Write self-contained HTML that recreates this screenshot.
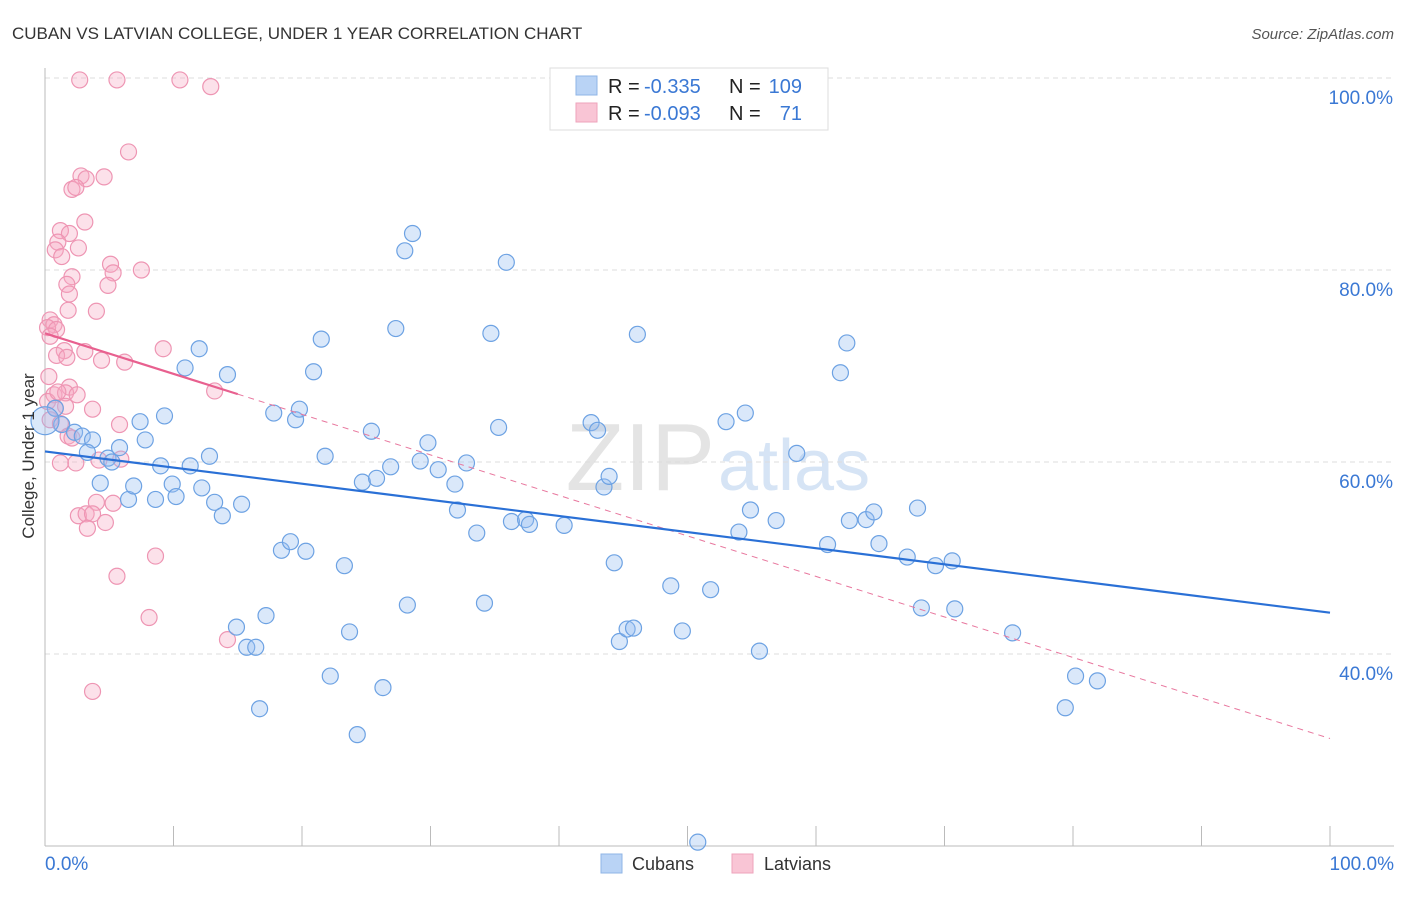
<!DOCTYPE html>
<html><head><meta charset="utf-8"><style>
body{margin:0;background:#fff;font-family:"Liberation Sans",sans-serif;}
svg text{font-family:"Liberation Sans",sans-serif;}
</style></head><body>
<svg id="chart" width="1406" height="892" xmlns="http://www.w3.org/2000/svg">
<text x="12" y="39" font-size="17" fill="#333">CUBAN VS LATVIAN COLLEGE, UNDER 1 YEAR CORRELATION CHART</text>
<text x="1394" y="39" font-size="15" fill="#555" font-style="italic" text-anchor="end">Source: ZipAtlas.com</text>
<text x="715" y="490" font-size="96" fill="#e4e4e4" text-anchor="end" font-family="Liberation Serif">ZIP</text>
<text x="718" y="490" font-size="72" fill="#d6e4f5">atlas</text>
<g id="grid"></g><g id="axes"></g><g id="marks"></g>
<text transform="translate(34,456) rotate(-90)" font-size="17" fill="#333" text-anchor="middle">College, Under 1 year</text>
<g>
<rect x="550" y="68" width="278" height="62" fill="#fff" stroke="#ddd"/>
<rect x="576" y="76" width="21" height="19" fill="#b9d3f5" stroke="#8fb5e6"/>
<rect x="576" y="103" width="21" height="19" fill="#f9c5d5" stroke="#eea3bb"/>
<text x="608" y="93" font-size="20" fill="#222">R =</text>
<text x="644" y="93" font-size="20" fill="#3a78d4">-0.335</text>
<text x="729" y="93" font-size="20" fill="#222">N =</text>
<text x="802" y="93" font-size="20" fill="#3a78d4" text-anchor="end">109</text>
<text x="608" y="120" font-size="20" fill="#222">R =</text>
<text x="644" y="120" font-size="20" fill="#3a78d4">-0.093</text>
<text x="729" y="120" font-size="20" fill="#222">N =</text>
<text x="802" y="120" font-size="20" fill="#3a78d4" text-anchor="end">71</text>
</g>
<g>
<rect x="601" y="854" width="21" height="19" fill="#b9d3f5" stroke="#8fb5e6"/>
<text x="632" y="870" font-size="18" fill="#333">Cubans</text>
<rect x="732" y="854" width="21" height="19" fill="#f9c5d5" stroke="#eea3bb"/>
<text x="764" y="870" font-size="18" fill="#333">Latvians</text>
</g>
</svg>
<script>
const blueX=[0.8,1.3,2.3,2.9,3.7,3.3,4.3,4.9,5.2,5.8,6.5,6.9,7.8,7.4,8.6,9,9.3,9.9,10.2,10.9,11.3,12,12.2,12.8,13.2,13.8,14.2,14.9,15.3,15.7,16.4,16.7,17.2,17.8,18.4,19.1,19.5,19.8,20.3,20.9,21.5,21.8,22.2,23.3,23.7,24.3,24.7,25.4,25.8,26.3,26.9,27.3,28,28.2,28.6,29.2,29.8,30.6,31.9,32.1,32.8,33.6,34.2,34.7,35.3,35.9,36.3,37.4,37.7,40.4,42.5,43,43.5,43.9,44.3,44.7,45.3,45.8,46.1,48.7,49.6,50.8,51.8,53,54,54.5,54.9,55.6,56.9,58.5,60.9,61.9,62.4,62.6,63.9,64.5,64.9,67.1,67.9,68.2,69.3,70.6,70.8,75.3,79.4,80.2,81.9,0];
const blueY=[65.6,63.9,63.1,62.7,62.3,61,57.8,60.4,60,61.5,56.1,57.5,62.3,64.2,56.1,59.6,64.8,57.7,56.4,69.8,59.6,71.8,57.3,60.6,55.8,54.4,69.1,42.8,55.6,40.7,40.7,34.3,44,65.1,50.8,51.7,64.4,65.5,50.7,69.4,72.8,60.6,37.7,49.2,42.3,31.6,57.9,63.2,58.3,36.5,59.5,73.9,82,45.1,83.8,60.1,62,59.2,57.7,55,59.9,52.6,45.3,73.4,63.6,80.8,53.8,54,53.5,53.4,64.1,63.3,57.4,58.5,49.5,41.3,42.6,42.7,73.3,47.1,42.4,20.4,46.7,64.2,52.7,65.1,55,40.3,53.9,60.9,51.4,69.3,72.4,53.9,54,54.8,51.5,50.1,55.2,44.8,49.2,49.7,44.7,42.2,34.4,37.7,37.2,64.3];
const pinkX=[2.7,5.6,10.5,12.9,6.5,2.8,3.2,4.6,2.1,2.4,3.1,1.2,1.9,1,2.6,0.8,1.3,5.1,7.5,5.3,2.1,1.7,4.9,1.9,1.8,4,0.4,0.7,0.2,0.9,0.4,9.2,1.5,3.1,0.9,1.7,4.4,6.2,1.9,13.2,0.7,1.6,2.5,0.2,1.6,3.7,0.4,1.2,5.8,1.8,4.2,5.9,1.2,2.4,4,5.3,2.6,3.2,3.7,4.7,3.3,8.6,5.6,8.1,14.2,3.7,1,0.3,0.8,2.1];
const pinkY=[99.8,99.8,99.8,99.1,92.3,89.8,89.5,89.7,88.4,88.6,85,84.1,83.8,82.9,82.3,82.1,81.4,80.6,80,79.7,79.3,78.5,78.4,77.5,75.8,75.7,74.8,74.3,74,73.8,73.1,71.8,71.6,71.5,71.1,70.9,70.6,70.4,67.8,67.4,67,67.2,67,66.3,65.8,65.5,64.4,64,63.9,62.7,60.2,60.3,59.9,59.9,55.8,55.7,54.4,54.6,54.6,53.7,53.1,50.2,48.1,43.8,41.5,36.1,67.3,68.9,65.6,62.5];
const xTicks=[0,10,20,30,40,50,60,70,80,90,100];
const yGrid=[40,60,80,100];
const yLabels=["40.0%","60.0%","80.0%","100.0%"];
const xLabels=["0.0%","100.0%"];
const blueTrend=[61.1,44.3]; // y at x=0, x=100
const pinkTrend=[73.4,31.2];
const pinkSolidEnd=15;

const X=v=>45+v*12.85, Y=v=>78+(100-v)*9.6;
const NS="http://www.w3.org/2000/svg";
function mk(tag,attrs,parent){const e=document.createElementNS(NS,tag);for(const k in attrs)e.setAttribute(k,attrs[k]);parent.appendChild(e);return e;}
const grid=document.getElementById('grid'),axes=document.getElementById('axes'),marks=document.getElementById('marks');
yGrid.forEach((v,i)=>{
 const l=mk('line',{x1:45,x2:1394,y1:Y(v),y2:Y(v),stroke:'#ddd','stroke-dasharray':'5,4'},grid);
 
 
 const t=mk('text',{x:1393,y:Y(v)+26,'font-size':19,fill:'#3a78d4','text-anchor':'end'},grid);t.textContent=yLabels[i];
 
 
});
const xa=mk('line',{x1:45,x2:1394,y1:846,y2:846,stroke:'#bbb'},axes);


const ya=mk('line',{x1:45,x2:45,y1:68,y2:846,stroke:'#bbb'},axes);


xTicks.forEach(v=>{const l=mk('line',{x1:X(v),x2:X(v),y1:826,y2:846,stroke:'#bbb'},axes);
 
 });
[[0,'start',45],[100,'end',1394]].forEach((a,i)=>{const t=mk('text',{x:a[2],y:870,'font-size':19,fill:'#3a78d4','text-anchor':a[1]},axes);t.textContent=xLabels[i];
 
 });
pinkX.forEach((v,i)=>{const c=mk('circle',{cx:X(v),cy:Y(pinkY[i]),r:8,fill:'rgba(246,170,195,0.35)',stroke:'#ee95b3','stroke-width':1.2},marks);
 
 });
blueX.forEach((v,i)=>{const c=mk('circle',{cx:X(v),cy:Y(blueY[i]),r:i===blueX.length-1?14:8,fill:'rgba(150,190,240,0.35)',stroke:'#6da2e3','stroke-width':1.2},marks);
 
 });
const pAt=x=>pinkTrend[0]+(pinkTrend[1]-pinkTrend[0])*x/100;
let l=mk('line',{x1:X(pinkSolidEnd),y1:Y(pAt(pinkSolidEnd)),x2:X(100),y2:Y(pAt(100)),stroke:'#e8779e','stroke-width':1,'stroke-dasharray':'6,5'},marks);


l=mk('line',{x1:X(0),y1:Y(pAt(0)),x2:X(pinkSolidEnd),y2:Y(pAt(pinkSolidEnd)),stroke:'#e8608f','stroke-width':2.2},marks);


l=mk('line',{x1:X(0),y1:Y(blueTrend[0]),x2:X(100),y2:Y(blueTrend[1]),stroke:'#2a70d6','stroke-width':2.2},marks);


</script>
</body></html>
